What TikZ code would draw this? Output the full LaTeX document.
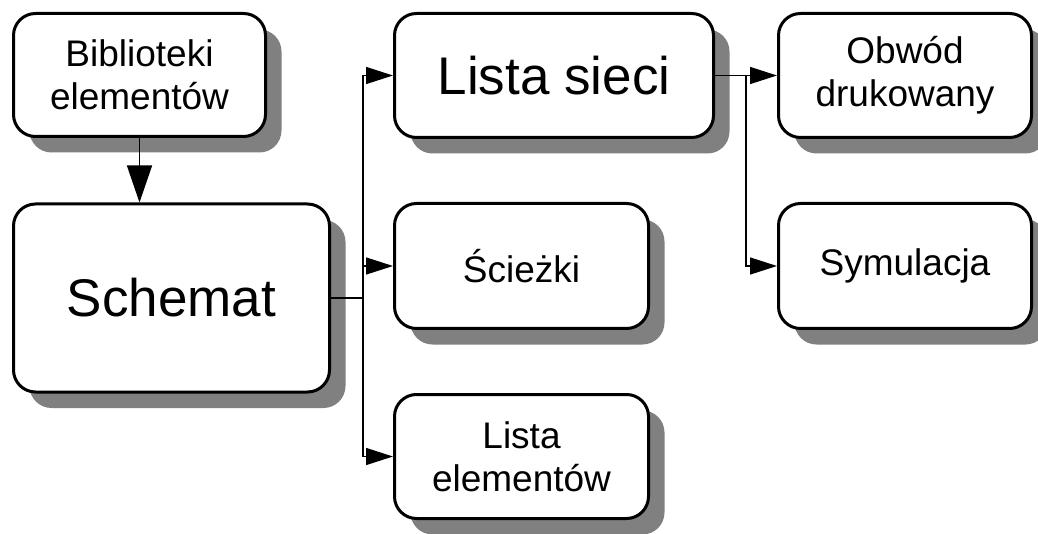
\documentclass[tikz,border=0pt]{standalone}
\usepackage{fontspec}
\setmainfont{Liberation Sans}
\usetikzlibrary{arrows.meta,shadows}
\begin{document}
\begin{tikzpicture}[x=1pt,y=-1pt,
  box/.style={draw, line width=3pt, rounded corners=22pt, fill=white, align=center,
    inner sep=0pt, font=\fontsize{37}{43}\selectfont,
    drop shadow={shadow xshift=16pt, shadow yshift=-16pt, fill=black!50, opacity=1}},
  bigtext/.style={font=\fontsize{53}{60}\selectfont},
  conn/.style={line width=1.4pt, -{Triangle[length=27pt,width=17pt]}},
  bigconn/.style={line width=1.4pt, -{Triangle[length=37pt,width=25pt]}}
]
\useasboundingbox (0,0) rectangle (1038,534);
\node[box, minimum width=252pt, minimum height=123pt] (bib) at (139.5,75) {Biblioteki\\elementów};
\node[box, bigtext, minimum width=316pt, minimum height=188pt] (sch) at (171.5,298) {Schemat};
\node[box, bigtext, minimum width=319pt, minimum height=124pt] (ls) at (554,75.5) {Lista sieci};
\node[box, minimum width=254pt, minimum height=125pt] (sc) at (521.5,266) {Ścieżki};
\node[box, minimum width=254pt, minimum height=124pt] (le) at (521.5,456.5) {Lista\\elementów};
\node[box, minimum width=253pt, minimum height=124pt] (ob) at (905,75.5) {Obwód\\drukowany};
\node[box, minimum width=253pt, minimum height=125pt] (sym) at (905,266) {Symulacja};
\draw[bigconn] (bib.south) -- (bib.south |- sch.north);
\coordinate (j1) at (363,298);
\coordinate (j2) at (746,75.5);
\draw[line width=1.4pt] (sch.east) -- (j1);
\draw[conn] (j1) |- (ls.west);
\draw[conn] (j1) |- (sc.west);
\draw[conn] (j1) |- (le.west);
\draw[line width=1.4pt] (ls.east) -- (j2);
\draw[conn] (j2) -- (ob.west);
\draw[conn] (j2) |- (sym.west);
\end{tikzpicture}
\end{document}
